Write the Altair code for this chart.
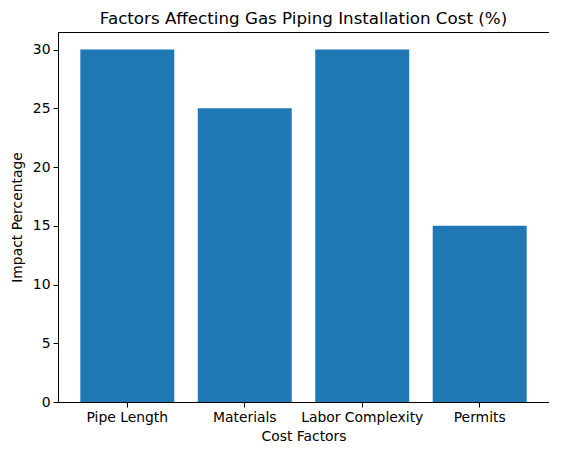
import pandas as pd
import altair as alt

factors = ["Pipe Length", "Materials", "Labor Complexity", "Permits"]
impact = [30, 25, 30, 15]

df = pd.DataFrame({"factor": factors, "impact": impact})

FONT = "DejaVu Sans"

chart = alt.Chart(df).mark_bar(color="#1f77b4").encode(
    x=alt.X(
        "factor:N",
        sort=factors,
        title="Cost Factors",
        scale=alt.Scale(paddingInner=0.2, paddingOuter=0.19),
        axis=alt.Axis(
            labelAngle=0, labelPadding=3, tickSize=5, titlePadding=6,
            domainColor="black", tickColor="black", labelColor="black",
        ),
    ),
    y=alt.Y(
        "impact:Q",
        title="Impact Percentage",
        scale=alt.Scale(domain=[0, 31.5], nice=False),
        axis=alt.Axis(
            values=[0, 5, 10, 15, 20, 25, 30], grid=False, tickSize=5,
            labelPadding=3, titlePadding=8,
            domainColor="black", tickColor="black", labelColor="black",
        ),
    ),
).properties(
    width=491,
    height=370,
    autosize=alt.AutoSizeParams(type="none"),
    padding={"left": 50, "top": 24, "right": 0, "bottom": 44},
    title=alt.TitleParams(
        "Factors Affecting Gas Piping Installation Cost (%)",
        fontSize=16.7, fontWeight="normal", font=FONT, color="black",
        offset=4,
    ),
).configure_view(
    stroke="black", strokeWidth=1
).configure_axis(
    labelFont=FONT, titleFont=FONT, labelFontSize=13.9, titleFontSize=13.9,
    titleFontWeight="normal", titleColor="black", domainWidth=1, tickWidth=1,
)

chart.save("out.html", embed_options={"renderer": "svg", "actions": False})
